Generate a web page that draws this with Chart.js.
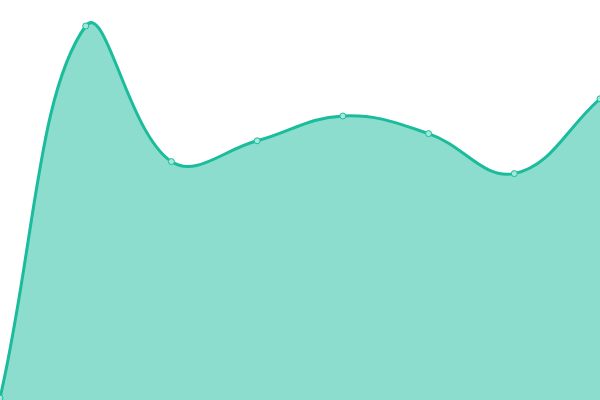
<!DOCTYPE html>
<html>
<head>
<meta charset="utf-8">
<script src="https://cdn.jsdelivr.net/npm/chart.js@4"></script>
<style>
  html, body { margin: 0; padding: 0; background: #fff; }
  #wrap { width: 600px; height: 400px; }
</style>
</head>
<body>
<div id="wrap"><canvas id="chart"></canvas></div>
<script>
const labels = ['1', '2', '3', '4', '5', '6', '7', '8'];
const values = [0.5, 93.5, 59.6, 64.8, 71, 66.6, 56.6, 75.3];

const ctx = document.getElementById('chart').getContext('2d');
new Chart(ctx, {
  type: 'line',
  data: {
    labels,
    datasets: [{
      data: values,
      borderColor: '#1abc9c',
      backgroundColor: 'rgba(26, 188, 156, 0.5)',
      borderWidth: 3,
      fill: true,
      tension: 0.4,
      pointRadius: 3,
      pointBorderWidth: 1,
      pointBackgroundColor: '#a3e8da',
      pointBorderColor: '#1abc9c',
    }],
  },
  options: {
    responsive: true,
    maintainAspectRatio: false,
    animation: false,
    layout: { padding: 0, autoPadding: false },
    plugins: { legend: { display: false }, tooltip: { enabled: false } },
    scales: {
      x: { display: false },
      y: { display: false, min: 0, max: 100 },
    },
  },
});
</script>
</body>
</html>
